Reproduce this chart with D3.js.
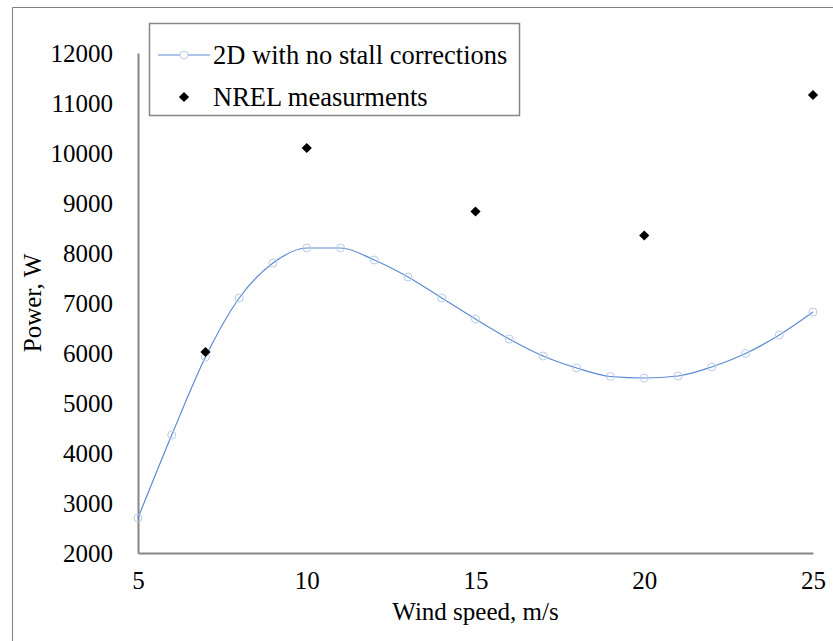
<!DOCTYPE html>
<html>
<head>
<meta charset="utf-8">
<script src="https://cdn.jsdelivr.net/npm/d3@7"></script>
<style>
  body { margin: 0; background: #fff; overflow: hidden; }
  svg text { font-family: "Liberation Serif", "Times New Roman", serif !important; }
</style>
</head>
<body>
<div id="chart"></div>
<script>
//Chart data
var windSpeed = [5, 6, 7, 8, 9, 10, 11, 12, 13, 14, 15, 16, 17, 18, 19, 20, 21, 22, 23, 24, 25];
var power2D = [2700, 4360, 5920, 7100, 7800, 8100, 8100, 7860, 7520, 7100, 6680, 6280, 5940, 5700, 5530, 5500, 5540, 5720, 5990, 6360, 6820];
var nrelSpeed = [7, 10, 15, 20, 25];
var nrelPower = [6020, 10100, 8830, 8350, 11160];
var xTicks = [5, 10, 15, 20, 25];
var yTicks = [2000, 3000, 4000, 5000, 6000, 7000, 8000, 9000, 10000, 11000, 12000];
var seriesNames = ["2D with no stall corrections", "NREL measurments"];

var serif = "Liberation Serif";

//svg size
var svgWidth = 833;
var svgHeight = 641;

var margin = {top: 53, right: 20, bottom: 88, left: 138};
var width = svgWidth - margin.left - margin.right;
var height = svgHeight - margin.top - margin.bottom;

var svg = d3.select("#chart")
    .append("svg")
    .attr("width", svgWidth)
    .attr("height", svgHeight)
    .attr("font-family", serif)
    .style("display", "block");

//outer frame, only left and top sides are inside the picture
svg.append("path")
    .attr("d", "M12.5,641V7.5H833")
    .attr("fill", "none")
    .attr("stroke", "#808080")
    .attr("stroke-width", 1);

var chartGroup = svg.append("g")
    .attr("transform", `translate(${margin.left}, ${margin.top})`);

//scales
var xScale = d3.scaleLinear().domain([5, 25]).range([0, width]);
var yScale = d3.scaleLinear().domain([2000, 12000]).range([height, 0]);

//axes, no tick marks, plain numbers
var bottomAxis = d3.axisBottom(xScale).tickValues(xTicks).tickSize(0).tickPadding(18).tickFormat(d3.format("d"));
var leftAxis = d3.axisLeft(yScale).tickValues(yTicks).tickSize(0).tickPadding(25).tickFormat(d3.format("d"));

var xAxis = chartGroup.append("g")
    .attr("transform", `translate(0, ${height})`)
    .call(bottomAxis);

var yAxis = chartGroup.append("g")
    .call(leftAxis);

[xAxis, yAxis].forEach(function(ax){
    ax.attr("font-family", serif).attr("font-size", 25);
    ax.select(".domain").attr("stroke", "#868686").attr("stroke-width", 2);
    ax.selectAll("text").attr("fill", "#000");
});

//smooth line for the 2D model
var lineData = windSpeed.map((d, i) => ({x: d, y: power2D[i]}));
var line = d3.line()
    .x(d => xScale(d.x))
    .y(d => yScale(d.y))
    .curve(d3.curveMonotoneX);

chartGroup.append("path")
    .datum(lineData)
    .attr("d", line)
    .attr("fill", "none")
    .attr("stroke", "#5B8BD3")
    .attr("stroke-width", 1.2);

chartGroup.selectAll(".marker")
    .data(lineData)
    .enter()
    .append("circle")
    .attr("class", "marker")
    .attr("cx", d => xScale(d.x))
    .attr("cy", d => yScale(d.y))
    .attr("r", 4)
    .attr("fill", "none")
    .attr("stroke", "#B9CDEB")
    .attr("stroke-width", 1);

//NREL points as diamonds
var diamond = d3.symbol().type(d3.symbolSquare).size(52);
var nrelData = nrelSpeed.map((d, i) => ({x: d, y: nrelPower[i]}));

chartGroup.selectAll(".nrel")
    .data(nrelData)
    .enter()
    .append("path")
    .attr("class", "nrel")
    .attr("d", diamond)
    .attr("transform", d => `translate(${xScale(d.x)}, ${yScale(d.y)}) rotate(45)`)
    .attr("fill", "#000");

//axis titles
chartGroup.append("text")
    .attr("x", width / 2)
    .attr("y", height + 67)
    .attr("text-anchor", "middle")
    .attr("font-size", 25)
    .text("Wind speed, m/s");

chartGroup.append("text")
    .attr("transform", "rotate(-90)")
    .attr("x", -height / 2)
    .attr("y", 32 - margin.left)
    .attr("dy", "0.35em")
    .attr("text-anchor", "middle")
    .attr("font-size", 25)
    .text("Power, W");

//legend
var legend = svg.append("g");

legend.append("rect")
    .attr("x", 149.5)
    .attr("y", 23.5)
    .attr("width", 370)
    .attr("height", 92)
    .attr("fill", "#fff")
    .attr("stroke", "#868686")
    .attr("stroke-width", 1.5);

legend.append("line")
    .attr("x1", 158).attr("x2", 210)
    .attr("y1", 55).attr("y2", 55)
    .attr("stroke", "#5B8BD3")
    .attr("stroke-width", 1.2);

legend.append("circle")
    .attr("cx", 184).attr("cy", 55).attr("r", 4)
    .attr("fill", "#fff")
    .attr("stroke", "#B9CDEB");

legend.append("path")
    .attr("d", diamond)
    .attr("transform", "translate(184, 97) rotate(45)")
    .attr("fill", "#000");

legend.selectAll(".legtext")
    .data(seriesNames)
    .enter()
    .append("text")
    .attr("class", "legtext")
    .attr("x", 213)
    .attr("y", (d, i) => 55 + i * 42)
    .attr("dy", "0.35em")
    .attr("font-size", 26.5)
    .text(d => d);
</script>
</body>
</html>
